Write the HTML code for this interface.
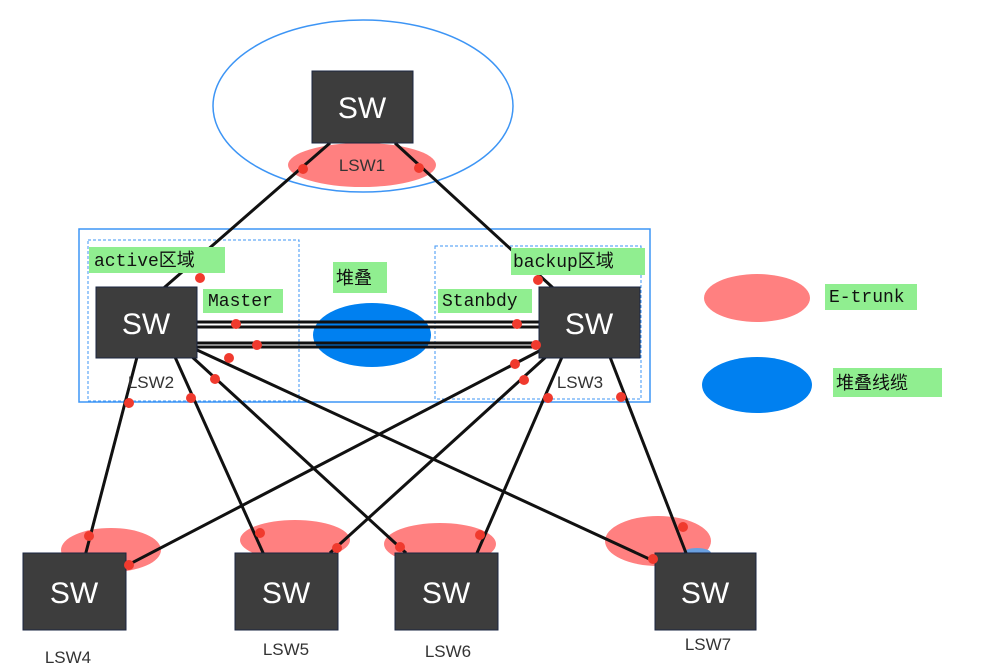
<!DOCTYPE html>
<html><head><meta charset="utf-8"><style>
html,body{margin:0;padding:0;background:#fff;}
svg{display:block;}
.sw{fill:#3d3d3d;stroke:#1a2540;stroke-width:1;}
.swt{fill:#fff;font-family:"Liberation Sans",sans-serif;font-size:30px;text-anchor:middle;}
.lbl{fill:#333;font-family:"Liberation Sans",sans-serif;font-size:17px;text-anchor:middle;}
.g{fill:#90ee90;}
.gt{fill:#111;font-family:"Liberation Mono","Noto Sans CJK SC",monospace;font-size:18px;}
.ln{stroke:#111;stroke-width:3;fill:none;}
.d{fill:#f03a2e;}
</style></head><body>
<svg width="996" height="670" viewBox="0 0 996 670" xmlns="http://www.w3.org/2000/svg">
<ellipse cx="363" cy="106" rx="150" ry="86" fill="none" stroke="#3d95f5" stroke-width="1.5"/>
<ellipse cx="362" cy="165" rx="74" ry="22" fill="#ff8080"/>
<rect x="79" y="229" width="571" height="173" fill="none" stroke="#3d95f5" stroke-width="1.5"/>
<rect x="88" y="240" width="211" height="161" fill="none" stroke="#3d95f5" stroke-width="1" stroke-dasharray="3,2"/>
<rect x="435" y="246" width="206" height="153" fill="none" stroke="#3d95f5" stroke-width="1" stroke-dasharray="3,2"/>
<ellipse cx="372" cy="335" rx="59" ry="32" fill="#0080f0"/>
<ellipse cx="111" cy="550" rx="50" ry="22" fill="#ff8080"/>
<ellipse cx="295" cy="540" rx="55" ry="20" fill="#ff8080"/>
<ellipse cx="440" cy="544" rx="56" ry="21" fill="#ff8080"/>
<ellipse cx="658" cy="541" rx="53" ry="25" fill="#ff8080"/>
<ellipse cx="757" cy="298" rx="53" ry="24" fill="#ff8080"/>
<ellipse cx="757" cy="385" rx="55" ry="28" fill="#0080f0"/>
<ellipse cx="697" cy="553" rx="14" ry="5" fill="#6aa0e0"/>
<!-- lines -->
<line class="ln" x1="330" y1="143" x2="150" y2="300"/>
<line class="ln" x1="395" y1="143" x2="563" y2="297"/>
<line class="ln" x1="197" y1="322" x2="539" y2="322"/>
<line class="ln" x1="197" y1="327" x2="539" y2="327"/>
<line class="ln" x1="197" y1="343" x2="539" y2="343"/>
<line class="ln" x1="197" y1="347" x2="539" y2="347"/>
<line class="ln" x1="137" y1="357" x2="84" y2="560"/>
<line class="ln" x1="175" y1="357" x2="264" y2="555"/>
<line class="ln" x1="190" y1="355" x2="406" y2="553"/>
<line class="ln" x1="197" y1="350" x2="658" y2="563"/>
<line class="ln" x1="545" y1="348" x2="124" y2="567"/>
<line class="ln" x1="548" y1="355" x2="330" y2="553"/>
<line class="ln" x1="562" y1="357" x2="477" y2="553"/>
<line class="ln" x1="610" y1="357" x2="686" y2="553"/>
<!-- boxes -->
<rect class="sw" x="312" y="71" width="101" height="72"/><text class="swt" x="362" y="118">SW</text>
<rect class="sw" x="96" y="287" width="101" height="71"/><text class="swt" x="146" y="334">SW</text>
<rect class="sw" x="539" y="287" width="101" height="71"/><text class="swt" x="589" y="334">SW</text>
<rect class="sw" x="23" y="553" width="103" height="77"/><text class="swt" x="74" y="603">SW</text>
<rect class="sw" x="235" y="553" width="103" height="77"/><text class="swt" x="286" y="603">SW</text>
<rect class="sw" x="395" y="553" width="103" height="77"/><text class="swt" x="446" y="603">SW</text>
<rect class="sw" x="655" y="553" width="101" height="77"/><text class="swt" x="705" y="603">SW</text>
<!-- dots -->
<g class="d">
<circle cx="303" cy="169" r="5"/><circle cx="419" cy="168" r="5"/>
<circle cx="200" cy="278" r="5"/><circle cx="538" cy="280" r="5"/>
<circle cx="236" cy="324" r="5"/><circle cx="517" cy="324" r="5"/>
<circle cx="257" cy="345" r="5"/><circle cx="536" cy="345" r="5"/>
<circle cx="229" cy="358" r="5"/><circle cx="215" cy="379" r="5"/>
<circle cx="129" cy="403" r="5"/><circle cx="191" cy="398" r="5"/>
<circle cx="515" cy="364" r="5"/><circle cx="524" cy="380" r="5"/>
<circle cx="548" cy="398" r="5"/><circle cx="621" cy="397" r="5"/>
<circle cx="89" cy="536" r="5"/><circle cx="129" cy="565" r="5"/>
<circle cx="260" cy="533" r="5"/><circle cx="337" cy="548" r="5"/>
<circle cx="400" cy="547" r="5"/><circle cx="480" cy="535" r="5"/>
<circle cx="683" cy="527" r="5"/><circle cx="653" cy="559" r="5"/>
</g>
<!-- LSW labels -->
<text class="lbl" x="362" y="171">LSW1</text>
<text class="lbl" x="151" y="388">LSW2</text>
<text class="lbl" x="580" y="388">LSW3</text>
<text class="lbl" x="68" y="663">LSW4</text>
<text class="lbl" x="286" y="655">LSW5</text>
<text class="lbl" x="448" y="657">LSW6</text>
<text class="lbl" x="708" y="650">LSW7</text>
<!-- green labels -->
<rect class="g" x="89" y="247" width="136" height="26"/><text class="gt" x="94" y="266">active区域</text>
<rect class="g" x="203" y="289" width="80" height="24"/><text class="gt" x="208" y="306">Master</text>
<rect class="g" x="333" y="262" width="54" height="31"/><text class="gt" x="336" y="284">堆叠</text>
<rect class="g" x="438" y="289" width="94" height="24"/><text class="gt" x="442" y="306">Stanbdy</text>
<rect class="g" x="511" y="248" width="134" height="27"/><text class="gt" x="513" y="267">backup区域</text>
<rect class="g" x="825" y="284" width="92" height="26"/><text class="gt" x="829" y="302">E-trunk</text>
<rect class="g" x="833" y="368" width="109" height="29"/><text class="gt" x="836" y="389">堆叠线缆</text>
</svg>
</body></html>
